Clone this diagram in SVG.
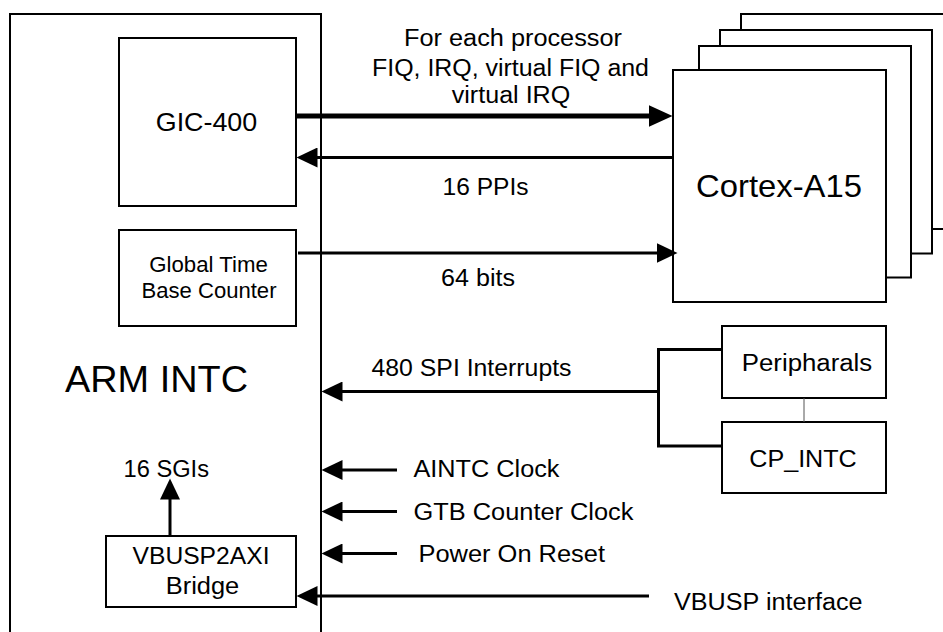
<svg xmlns="http://www.w3.org/2000/svg" width="943" height="632" viewBox="0 0 943 632">
<style>
  .box { fill: #fff; stroke: #000; stroke-width: 2; }
  .frame { fill: none; stroke: #000; stroke-width: 2; }
  .t { font-family: "Liberation Sans", Arial, sans-serif; fill: #000; }
  .lbl { font-size: 23.5px; }
  .c { text-anchor: middle; }
  .wire { stroke: #000; stroke-width: 3; fill: none; }
  .thick { stroke: #000; stroke-width: 5; fill: none; }
  .thin { stroke: #555; stroke-width: 1; fill: none; }
</style>
<defs>
  <marker id="arr" markerUnits="userSpaceOnUse" markerWidth="22" markerHeight="20" viewBox="0 0 22 20" refX="0.5" refY="10" orient="auto">
    <path d="M0,0 L21,10 L0,20 z" fill="#000"/>
  </marker>
  <marker id="arrBig" markerUnits="userSpaceOnUse" markerWidth="25" markerHeight="22" viewBox="0 0 25 22" refX="0.5" refY="11" orient="auto">
    <path d="M0,0 L24,11 L0,22 z" fill="#000"/>
  </marker>
</defs>

<g id="arm-intc">
  <rect class="frame" x="10" y="14" width="311" height="640"/>
  <text class="t" x="65" y="391.5" font-size="37" textLength="183" lengthAdjust="spacingAndGlyphs">ARM INTC</text>
</g>

<g id="gic-400">
  <rect class="box" x="119" y="38" width="177" height="168"/>
  <text class="t c" x="206.5" y="130.5" font-size="26" textLength="101.5" lengthAdjust="spacingAndGlyphs">GIC-400</text>
</g>

<g id="global-time-base-counter">
  <rect class="box" x="119" y="230" width="177" height="96"/>
  <text class="t c" x="208.5" y="271.5" font-size="21.5" textLength="118.5" lengthAdjust="spacingAndGlyphs">Global Time</text>
  <text class="t c" x="209" y="297.5" font-size="21.5" textLength="135" lengthAdjust="spacingAndGlyphs">Base Counter</text>
</g>

<g id="vbusp2axi-bridge">
  <rect class="box" x="106" y="536" width="190" height="71"/>
  <text class="t c lbl" x="201" y="564" textLength="137" lengthAdjust="spacingAndGlyphs">VBUSP2AXI</text>
  <text class="t c lbl" x="202.5" y="593.5" textLength="73.5" lengthAdjust="spacingAndGlyphs">Bridge</text>
</g>

<g id="cortex-a15">
  <rect class="box" x="741" y="14" width="220" height="215"/>
  <rect class="box" x="720" y="30" width="212" height="223.5"/>
  <rect class="box" x="699" y="46" width="212" height="231.5"/>
  <rect class="box" x="673" y="70" width="213" height="232"/>
  <text class="t c" x="779" y="196.5" font-size="32" textLength="166" lengthAdjust="spacingAndGlyphs">Cortex-A15</text>
</g>

<g id="peripharals">
  <rect class="box" x="722" y="326" width="164" height="72"/>
  <text class="t c lbl" x="807" y="370.5" textLength="130.5" lengthAdjust="spacingAndGlyphs">Peripharals</text>
</g>

<g id="cp-intc">
  <rect class="box" x="722" y="422" width="164" height="71"/>
  <text class="t c lbl" x="803" y="466.5" textLength="107.5" lengthAdjust="spacingAndGlyphs">CP_INTC</text>
</g>

<g id="connectors">
  <line class="thick" x1="296" y1="116" x2="649" y2="116" marker-end="url(#arrBig)"/>
  <line class="wire" x1="673" y1="157.5" x2="317" y2="157.5" marker-end="url(#arr)"/>
  <line class="wire" x1="298" y1="253" x2="657" y2="253" marker-end="url(#arr)"/>
  <polyline class="wire" points="722,349.5 658.5,349.5 658.5,446 722,446"/>
  <line class="wire" x1="658.5" y1="391.5" x2="342" y2="391.5" marker-end="url(#arr)"/>
  <line class="thin" x1="804" y1="398" x2="804" y2="422"/>
  <line class="wire" x1="397" y1="470" x2="342" y2="470" marker-end="url(#arr)"/>
  <line class="wire" x1="397" y1="511.5" x2="342" y2="511.5" marker-end="url(#arr)"/>
  <line class="wire" x1="397" y1="553.5" x2="342" y2="553.5" marker-end="url(#arr)"/>
  <line class="wire" x1="649" y1="596" x2="317" y2="596" marker-end="url(#arr)"/>
  <line class="wire" x1="170" y1="536" x2="170" y2="499" stroke-width="4" marker-end="url(#arr)"/>
</g>

<g id="labels">
  <text class="t c lbl" x="513" y="45.5" textLength="218" lengthAdjust="spacingAndGlyphs">For each processor</text>
  <text class="t c lbl" x="510.5" y="75.5" textLength="277" lengthAdjust="spacingAndGlyphs">FIQ, IRQ, virtual FIQ and</text>
  <text class="t c lbl" x="511" y="103" textLength="118.5" lengthAdjust="spacingAndGlyphs">virtual IRQ</text>
  <text class="t c lbl" x="485.5" y="195" textLength="86" lengthAdjust="spacingAndGlyphs">16 PPIs</text>
  <text class="t c lbl" x="478" y="285.5" textLength="74" lengthAdjust="spacingAndGlyphs">64 bits</text>
  <text class="t lbl" x="371.5" y="376" textLength="200" lengthAdjust="spacingAndGlyphs">480 SPI Interrupts</text>
  <text class="t lbl" x="123.5" y="477" textLength="85.5" lengthAdjust="spacingAndGlyphs">16 SGIs</text>
  <text class="t lbl" x="413.5" y="477" textLength="146" lengthAdjust="spacingAndGlyphs">AINTC Clock</text>
  <text class="t lbl" x="413.5" y="519.5" textLength="220" lengthAdjust="spacingAndGlyphs">GTB Counter Clock</text>
  <text class="t lbl" x="418.5" y="561.5" textLength="186.5" lengthAdjust="spacingAndGlyphs">Power On Reset</text>
  <text class="t lbl" x="674" y="610" textLength="188.5" lengthAdjust="spacingAndGlyphs">VBUSP interface</text>
</g>
</svg>
